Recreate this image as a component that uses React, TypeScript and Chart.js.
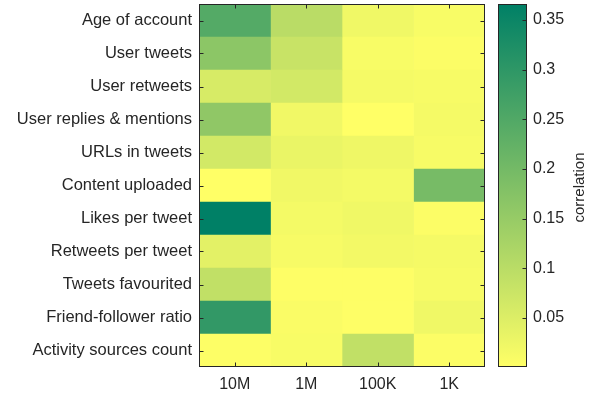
import React, { useEffect, useRef } from "react";
import { Chart, registerables } from "chart.js";

Chart.register(...registerables);

const rowLabels = [
  "Age of account",
  "User tweets",
  "User retweets",
  "User replies & mentions",
  "URLs in tweets",
  "Content uploaded",
  "Likes per tweet",
  "Retweets per tweet",
  "Tweets favourited",
  "Friend-follower ratio",
  "Activity sources count",
];

const colLabels = ["10M", "1M", "100K", "1K"];

// correlation per column (one entry per row, top to bottom)
const col10M = [0.245, 0.165, 0.058, 0.16, 0.065, 0.001, 0.366, 0.04, 0.09, 0.295, 0.004];
const col1M = [0.1, 0.08, 0.065, 0.02, 0.03, 0.02, 0.016, 0.012, 0.002, 0.008, 0.01];
const col100K = [0.022, 0.01, 0.015, 0.0005, 0.024, 0.016, 0.022, 0.018, 0.002, 0.002, 0.09];
const col1K = [0.01, 0.005, 0.012, 0.015, 0.012, 0.195, 0.005, 0.015, 0.012, 0.022, 0.005];

const colorbarTicks = [0.05, 0.1, 0.15, 0.2, 0.25, 0.3, 0.35];
const cMin = 0.0005;
const cMax = 0.366;

const FONT = "'Liberation Sans', Arial, Helvetica, sans-serif";
const TEXT = "#262626";

function summer(v: number): string {
  let t = (v - cMin) / (cMax - cMin);
  t = Math.max(0, Math.min(1, t));
  const r = Math.round(255 * (1 - t));
  const g = Math.round(255 * (1 - 0.5 * t));
  return `rgb(${r},${g},102)`;
}

const framePlugin = {
  id: "frame",
  afterDraw(chart: any, _args: any, opts: any) {
    const { ctx, chartArea: a } = chart;
    ctx.save();
    ctx.strokeStyle = "#262626";
    ctx.lineWidth = 1;
    const L = Math.round(a.left) + 0.5;
    const R = Math.round(a.right) - 0.5;
    const T = Math.round(a.top) + 0.5;
    const B = Math.round(a.bottom) - 0.5;
    const tl = 4;
    ctx.beginPath();
    if (opts.xTicks) {
      const xs = chart.scales.x;
      xs.ticks.forEach((tk: any) => {
        const x = Math.round(xs.getPixelForValue(tk.value)) + 0.5;
        ctx.moveTo(x, T);
        ctx.lineTo(x, T + tl);
        ctx.moveTo(x, B);
        ctx.lineTo(x, B - tl);
      });
    }
    if (opts.yTicks) {
      const ys = chart.scales.y;
      const ticks = ys.ticks;
      ticks.forEach((tk: any, i: number) => {
        const y = Math.round(ys.getPixelForTick(i)) + 0.5;
        if (opts.leftTicks) {
          ctx.moveTo(L, y);
          ctx.lineTo(L + tl, y);
        }
        ctx.moveTo(R, y);
        ctx.lineTo(R - tl, y);
      });
    }
    ctx.stroke();
    ctx.strokeRect(L, T, R - L, B - T);
    if (opts.title) {
      ctx.fillStyle = TEXT;
      ctx.font = `15px ${FONT}`;
      ctx.textAlign = "center";
      ctx.textBaseline = "middle";
      ctx.translate(opts.titleX, (a.top + a.bottom) / 2 + 2);
      ctx.rotate(-Math.PI / 2);
      ctx.fillText(opts.title, 0, 0);
    }
    ctx.restore();
  },
};

const zeroPad = (axis: any) => {
  axis.paddingTop = 0;
  axis.paddingBottom = 0;
  axis.paddingLeft = 0;
  axis.paddingRight = 0;
};

export default function App() {
  const mainRef = useRef<HTMLCanvasElement>(null);
  const barRef = useRef<HTMLCanvasElement>(null);

  useEffect(() => {
    const columns = [col10M, col1M, col100K, col1K];
    const main = new Chart(mainRef.current as HTMLCanvasElement, {
      type: "bar",
      data: {
        labels: rowLabels,
        datasets: columns.map((col, ci) => ({
          label: colLabels[ci],
          data: col.map(() => 1),
          backgroundColor: col.map((v) => summer(v)),
          borderWidth: 0,
          barPercentage: 1,
          categoryPercentage: 1,
        })),
      },
      options: {
        indexAxis: "y",
        animation: false,
        responsive: false,
        maintainAspectRatio: false,
        events: [],
        layout: { padding: { top: 4, right: 5, bottom: 0, left: 0 } },
        plugins: {
          legend: { display: false },
          tooltip: { enabled: false },
          frame: { xTicks: true, yTicks: true, leftTicks: true },
        } as any,
        scales: {
          x: {
            type: "linear",
            stacked: true,
            min: 0,
            max: 4,
            grid: { display: false, drawTicks: false },
            border: { display: false },
            afterBuildTicks: (axis: any) => {
              axis.ticks = colLabels.map((_, i) => ({ value: i + 0.5 }));
            },
            afterFit: (axis: any) => {
              axis.height = 32;
              zeroPad(axis);
            },
            ticks: {
              autoSkip: false,
              maxRotation: 0,
              padding: 8,
              color: TEXT,
              font: { family: FONT, size: 16 },
              callback: (_v: any, i: number) => colLabels[i],
            },
          },
          y: {
            type: "category",
            stacked: true,
            grid: { display: false, drawTicks: false },
            border: { display: false },
            afterFit: (axis: any) => {
              axis.width = 199;
              zeroPad(axis);
            },
            ticks: {
              autoSkip: false,
              padding: 7,
              color: TEXT,
              font: { family: FONT, size: 16.5 },
            },
          },
        },
      },
      plugins: [framePlugin],
    });

    const bar = new Chart(barRef.current as HTMLCanvasElement, {
      type: "bar",
      data: {
        labels: ["correlation"],
        datasets: [
          {
            data: [[cMin, cMax]] as any,
            borderWidth: 0,
            barPercentage: 1,
            categoryPercentage: 1,
            backgroundColor: (ctx: any) => {
              const a = ctx.chart.chartArea;
              if (!a) return summer(cMin);
              const g = ctx.chart.ctx.createLinearGradient(0, a.bottom, 0, a.top);
              g.addColorStop(0, summer(cMin));
              g.addColorStop(1, summer(cMax));
              return g;
            },
          },
        ],
      },
      options: {
        animation: false,
        responsive: false,
        maintainAspectRatio: false,
        events: [],
        layout: { padding: { top: 4, right: 0, bottom: 32, left: 8 } },
        plugins: {
          legend: { display: false },
          tooltip: { enabled: false },
          frame: { xTicks: false, yTicks: true, leftTicks: false, title: "correlation", titleX: 90 },
        } as any,
        scales: {
          x: { display: false },
          y: {
            type: "linear",
            position: "right",
            min: cMin,
            max: cMax,
            grid: { display: false, drawTicks: false },
            border: { display: false },
            afterBuildTicks: (axis: any) => {
              axis.ticks = colorbarTicks.map((v) => ({ value: v }));
            },
            afterFit: (axis: any) => {
              axis.width = 69;
              zeroPad(axis);
            },
            ticks: {
              padding: 6,
              color: TEXT,
              font: { family: FONT, size: 16 },
              callback: (v: any) => String(+Number(v).toFixed(2)),
            },
          },
        },
      },
      plugins: [framePlugin],
    });

    return () => {
      main.destroy();
      bar.destroy();
    };
  }, []);

  return (
    <div style={{ position: "fixed", left: 0, top: 0, width: 596, height: 399, background: "#fff" }}>
      <canvas ref={mainRef} width={490} height={399} style={{ position: "absolute", left: 0, top: 0 }} />
      <canvas ref={barRef} width={106} height={399} style={{ position: "absolute", left: 490, top: 0 }} />
    </div>
  );
}
